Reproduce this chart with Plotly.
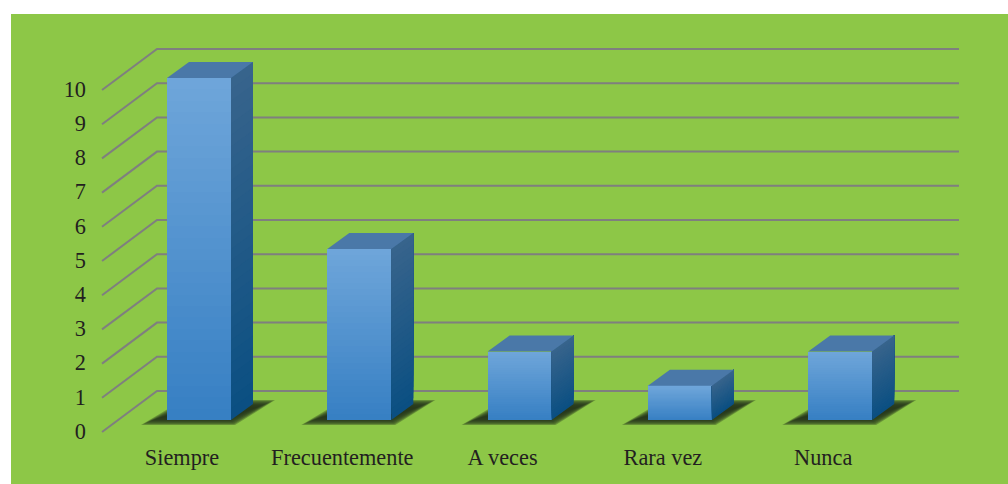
import plotly.graph_objects as go

# ---- data ----
categories = ["Siempre", "Frecuentemente", "A veces", "Rara vez", "Nunca"]
values = [10, 5, 2, 1, 2]
y_ticks = [0, 1, 2, 3, 4, 5, 6, 7, 8, 9, 10]

# ---- style / pseudo-3D geometry, in axis units ----
W, H = 1008, 484
PX_X, PX_Y = 160.3, 34.2          # pixels per axis unit
X0_PX, Y0_PX = 199.0, 420.0       # pixel of category 0 / value 0
BAR_W = 64 / PX_X
DX, DY = 22 / PX_X, 16 / PX_Y     # bar depth
WALL_FRONT_X, WALL_BACK_X, WALL_END_X = -0.605, -0.262, 4.741
FLOOR_FRONT_Y, FLOOR_BACK_Y = -0.351, 0.848
LABEL_SHIFT = -17 / PX_X
STRIPS = 30
GREEN = "#8dc747"
TEXT = "#231f20"
FONT = "Liberation Serif"


def mix(a, b, t):
    return "rgb(" + ",".join(str(round(a[k] + (b[k] - a[k]) * t)) for k in range(3)) + ")"


FRONT_TOP, FRONT_BOT = (111, 166, 218), (54, 127, 195)
SIDE_TOP, SIDE_BOT = (56, 100, 140), (10, 79, 130)
TOP_FACE = "#4a78a8"

xs = list(range(len(categories)))
fig = go.Figure()

# gridlines: front corner -> back wall -> right end
for v in y_ticks:
    fig.add_trace(go.Scatter(
        x=[WALL_FRONT_X, WALL_BACK_X, WALL_END_X],
        y=[v + FLOOR_FRONT_Y, v + FLOOR_BACK_Y, v + FLOOR_BACK_Y],
        mode="lines", line=dict(color="#7f7f7f", width=2), zorder=-2,
        hoverinfo="skip", showlegend=False))

# blurred shadows on the floor
SH = [(-58 / PX_X, -5 / PX_Y), (36 / PX_X, -5 / PX_Y), (76 / PX_X, 20 / PX_Y), (-16 / PX_X, 20 / PX_Y)]
LAYERS = 10
for k in range(LAYERS):
    ix = (LAYERS - 1 - k) * 1.9 / PX_X
    iy = (LAYERS - 1 - k) * 0.8 / PX_Y
    sx, sy = [], []
    for x in xs:
        sx += [x + SH[0][0] + ix, x + SH[1][0] - ix * 0.4, x + SH[2][0] - ix, x + SH[3][0] + ix, x + SH[0][0] + ix, None]
        sy += [SH[0][1] + iy, SH[1][1] + iy, SH[2][1] - iy, SH[3][1] - iy, SH[0][1] + iy, None]
    fig.add_trace(go.Scatter(
        x=sx, y=sy, mode="lines", fill="toself", line=dict(width=0),
        fillcolor="rgba(25,35,22,%.3f)" % (0.05 + 0.028 * k), zorder=-1,
        hoverinfo="skip", showlegend=False))

# front faces: stacked thin bars give the vertical gradient
for k in range(STRIPS):
    t = (k + 0.5) / STRIPS
    fig.add_trace(go.Bar(
        x=xs, y=[v / STRIPS for v in values], base=[v * k / STRIPS for v in values],
        width=BAR_W, marker=dict(color=mix(FRONT_BOT, FRONT_TOP, t), line=dict(width=0)),
        hoverinfo="skip", showlegend=False))

# right side faces: each strip runs to the top and is overpainted by the next one
for k in range(STRIPS):
    t = (k + 0.5) / STRIPS
    sx, sy = [], []
    for x, v in zip(xs, values):
        r = x + BAR_W / 2
        lo = v * k / STRIPS
        sx += [r, r + DX, r + DX, r, r, None]
        sy += [lo, lo + DY, v + DY, v, lo, None]
    fig.add_trace(go.Scatter(
        x=sx, y=sy, mode="lines", fill="toself", line=dict(width=0),
        fillcolor=mix(SIDE_BOT, SIDE_TOP, t), hoverinfo="skip", showlegend=False))

# top faces
tx, ty = [], []
for x, v in zip(xs, values):
    l, r = x - BAR_W / 2, x + BAR_W / 2
    tx += [l, r, r + DX, l + DX, l, None]
    ty += [v, v, v + DY, v + DY, v, None]
fig.add_trace(go.Scatter(
    x=tx, y=ty, mode="lines", fill="toself", line=dict(width=0),
    fillcolor=TOP_FACE, hoverinfo="skip", showlegend=False))

L_PX, R_PX, T_PX, B_PX = 87, 1000, 20, 442
fig.update_layout(
    width=W, height=H, autosize=False,
    margin=dict(l=0, r=0, t=0, b=0),
    paper_bgcolor="white", plot_bgcolor="rgba(0,0,0,0)",
    barmode="overlay", bargap=0, showlegend=False,
    font=dict(family=FONT, size=22, color=TEXT),
    shapes=[dict(type="rect", xref="paper", yref="paper",
                 x0=11 / W, x1=1, y0=0, y1=1 - 14 / H,
                 fillcolor=GREEN, line=dict(width=0), layer="below")],
    xaxis=dict(
        automargin=False,
        domain=[L_PX / W, R_PX / W],
        range=[(L_PX - X0_PX) / PX_X, (R_PX - X0_PX) / PX_X],
        tickmode="array", tickvals=[x + LABEL_SHIFT for x in xs], ticktext=categories,
        showgrid=False, zeroline=False, showline=False, ticks="", tickangle=0,
        tickfont=dict(family=FONT, size=22.3, color=TEXT)),
    yaxis=dict(
        automargin=False,
        domain=[1 - B_PX / H, 1 - T_PX / H],
        range=[(Y0_PX - B_PX) / PX_Y, (Y0_PX - T_PX) / PX_Y],
        tickmode="array", tickvals=[v + FLOOR_FRONT_Y + 0.03 for v in y_ticks], ticktext=[str(v) for v in y_ticks],
        showgrid=False, zeroline=False, showline=False, ticks="",
        tickfont=dict(family=FONT, size=22.3, color=TEXT)),
)

fig.write_html("out.html", config=dict(displayModeBar=False),
               post_script="document.body.style.margin='0';document.documentElement.style.overflow='hidden';")
